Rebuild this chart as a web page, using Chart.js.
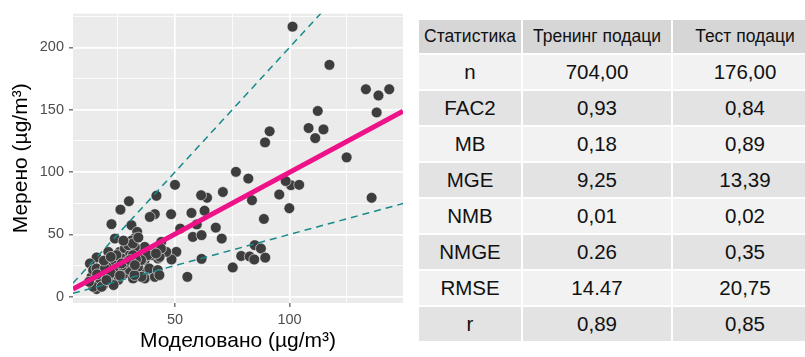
<!DOCTYPE html>
<html>
<head>
<meta charset="utf-8">
<script src="https://cdn.jsdelivr.net/npm/chart.js@4/dist/chart.umd.min.js"></script>
<style>
  html, body { margin: 0; padding: 0; background: #ffffff; width: 805px; height: 357px; overflow: hidden; position: relative; }
  #plotWrap { position: absolute; left: 0; top: 0; width: 410px; height: 357px; }
  #tableWrap { position: absolute; left: 417px; top: 18px; width: 430px; }
  #stats {
    border-collapse: separate; border-spacing: 2px;
    table-layout: fixed; width: 430px;
    font-family: 'Liberation Sans', Arial, sans-serif; color: #111;
  }
  #stats th {
    height: 33px; padding: 0; background: #d6d6d6;
    font-weight: normal; font-size: 17.5px; text-align: center; white-space: nowrap;
  }
  #stats td {
    height: 34px; padding: 0; font-size: 20.5px; text-align: center; white-space: nowrap;
  }
  #stats tbody tr:nth-child(odd) td { background: #f2f2f2; }
  #stats tbody tr:nth-child(even) td { background: #e3e3e3; }
</style>
</head>
<body>
<div id="plotWrap"><canvas id="scatter" width="410" height="357"></canvas></div>
<div id="tableWrap">
<table id="stats">
  <colgroup><col style="width:102px"><col style="width:148px"><col style="width:172px"></colgroup>
  <thead><tr id="statsHead"></tr></thead>
  <tbody id="statsBody"></tbody>
</table>
</div>
<script>
// Modelled vs. measured concentrations (µg/m³), test set
const modelled = [
  101.3, 117.4, 133.3, 138.8, 143.5, 138.0, 112.3, 108.3, 114.8, 111.2,
  124.9, 91.3, 89.3, 76.6, 82.0, 135.8, 99.9, 100.6, 104.2, 98.3,
  95.5, 88.8, 83.6, 70.9, 67.8, 70.4, 64.0, 61.4, 62.9, 57.2,
  59.5, 57.8, 61.6, 61.6, 75.2, 78.9, 82.6, 84.6, 84.8, 87.5,
  89.4, 55.4, 50.0, 48.3, 52.3, 50.6, 48.5, 41.9, 41.2, 39.0,
  44.0, 43.3, 46.2, 39.7, 36.8, 42.6, 36.1, 39.7, 42.6, 36.8,
  41.2, 43.3, 39.7, 29.9, 26.2, 22.3, 31.0, 33.5, 32.2, 23.8,
  15.8, 15.8, 20.9, 25.9, 28.1, 31.0, 30.3, 26.7, 23.2, 24.5,
  20.1, 17.3, 12.9, 13.6, 17.3, 20.1, 23.2, 18.7, 25.2, 28.1,
  30.3, 31.7, 33.9, 36.1, 34.7, 36.8, 35.4, 14.3, 17.3, 14.3,
  24.5, 32.5, 29.6, 31.0, 15.8, 19.4, 20.9, 18.0, 31.6, 31.6,
  38.1, 35.2, 38.8, 42.5, 43.2, 32.3, 43.9, 41.7, 27.0, 22.0,
  26.0, 29.0, 33.0, 19.0, 22.0, 12.5, 16.0, 27.5, 34.0, 26.7,
  30.3, 32.5, 23.2, 20.1
];
const measured = [
  216.6, 186.0, 166.4, 161.4, 166.4, 147.8, 149.0, 135.3, 134.2, 127.2,
  111.8, 132.7, 123.8, 100.2, 94.8, 79.4, 71.0, 89.5, 89.8, 92.8,
  82.0, 62.4, 77.4, 84.0, 55.5, 46.7, 79.4, 81.4, 69.0, 67.2,
  58.0, 48.0, 49.4, 30.4, 23.5, 32.7, 32.3, 29.9, 41.4, 38.7,
  31.4, 16.0, 89.8, 66.2, 54.7, 36.0, 29.9, 81.0, 66.3, 64.0,
  44.0, 37.4, 36.0, 36.0, 29.4, 30.7, 20.0, 21.4, 17.4, 14.7,
  16.0, 32.0, 33.4, 76.6, 69.9, 58.2, 57.4, 52.0, 46.7, 46.7,
  31.5, 6.2, 36.0, 36.0, 38.7, 41.4, 33.4, 30.7, 28.0, 22.7,
  24.0, 21.4, 26.7, 16.0, 13.4, 14.7, 10.7, 9.4, 13.4, 18.7,
  21.4, 14.7, 24.0, 30.7, 36.0, 40.0, 16.0, 21.4, 10.7, 8.0,
  33.4, 40.0, 41.4, 45.0, 22.7, 22.7, 13.4, 8.0, 42.7, 33.4,
  33.4, 29.4, 22.7, 21.4, 17.4, 17.4, 38.7, 34.7, 25.0, 19.0,
  17.0, 28.0, 30.0, 29.0, 32.0, 12.0, 18.0, 45.0, 47.5, 26.7,
  29.4, 25.4, 9.4, 13.4
];

// Fitted regression line: [intercept, slope]
const fitCoef = [0.8, 0.99];
// Factor-of-two envelope slopes (1:2 and 2:1)
const envelopeSlopes = [2, 0.5];

// Axis extents and ticks
const xLimits = [5.5, 149.5];
const yLimits = [-5, 227];
const xGridValues = [25, 50, 75, 100, 125];
const yGridValues = [0, 25, 50, 75, 100, 125, 150, 175, 200, 225];
const xTickLabels = [50, 100];
const yTickLabels = [0, 50, 100, 150, 200];

// Statistics table
const statHeaders = ['Статистика', 'Тренинг подаци', 'Тест подаци'];
const statNames = ['n', 'FAC2', 'MB', 'MGE', 'NMB', 'NMGE', 'RMSE', 'r'];
const trainValues = ['704,00', '0,93', '0,18', '9,25', '0,01', '0.26', '14.47', '0,89'];
const testValues = ['176,00', '0,84', '0,89', '13,39', '0,02', '0,35', '20,75', '0,85'];

// Build the table
const head = document.getElementById('statsHead');
statHeaders.forEach(h => { const th = document.createElement('th'); th.textContent = h; head.appendChild(th); });
const body = document.getElementById('statsBody');
statNames.forEach((name, i) => {
  const tr = document.createElement('tr');
  [name, trainValues[i], testValues[i]].forEach((v, j) => {
    const td = document.createElement('td'); td.textContent = v;
    // third column is wider than the visible area; keep its text centred at the visible column centre
    if (j === 2) td.style.paddingRight = '28px';
    tr.appendChild(td);
  });
  body.appendChild(tr);
});
document.querySelectorAll('#statsHead th')[2].style.paddingRight = '28px';

// Chart
const FONT = "'Liberation Sans', Arial, sans-serif";
Chart.defaults.font.family = FONT;

const panelBackground = {
  id: 'panelBackground',
  beforeDraw(chart) {
    const { ctx, chartArea: a } = chart;
    ctx.save();
    ctx.fillStyle = '#ebebeb';
    ctx.fillRect(a.left, a.top, a.right - a.left, a.bottom - a.top);
    ctx.restore();
  }
};

const linePoints = (intercept, slope) =>
  xLimits.map(x => ({ x, y: intercept + slope * x }));

const isMajor = (list, v) => list.includes(v);

new Chart(document.getElementById('scatter'), {
  type: 'scatter',
  data: {
    datasets: [
      {
        type: 'line', data: linePoints(fitCoef[0], fitCoef[1]),
        borderColor: '#ee1289', borderWidth: 5, pointRadius: 0, order: 0
      },
      {
        type: 'line', data: linePoints(0, envelopeSlopes[0]),
        borderColor: '#17898b', borderWidth: 1.5, borderDash: [7, 5], pointRadius: 0, order: 1
      },
      {
        type: 'line', data: linePoints(0, envelopeSlopes[1]),
        borderColor: '#17898b', borderWidth: 1.5, borderDash: [7, 5], pointRadius: 0, order: 1
      },
      {
        data: modelled.map((x, i) => ({ x, y: measured[i] })),
        backgroundColor: '#3d3d3d',
        borderColor: 'rgba(255,255,255,0.7)',
        borderWidth: 0.8,
        pointRadius: 5.4,
        order: 2
      }
    ]
  },
  options: {
    responsive: false,
    animation: false,
    events: [],
    layout: { padding: { left: 0, right: 7, top: 13, bottom: 0 } },
    plugins: { legend: { display: false }, tooltip: { enabled: false } },
    scales: {
      x: {
        type: 'linear', min: xLimits[0], max: xLimits[1],
        afterBuildTicks: s => { s.ticks = xGridValues.map(v => ({ value: v })); },
        afterFit: s => { s.height = 54; },
        border: { display: false },
        grid: {
          color: '#ffffff',
          lineWidth: c => isMajor(xTickLabels, c.tick && c.tick.value) ? 1.7 : 0.8,
          tickColor: c => isMajor(xTickLabels, c.tick && c.tick.value) ? '#333333' : 'rgba(0,0,0,0)',
          tickWidth: 1,
          tickLength: 4,
          drawTicks: true
        },
        ticks: {
          color: '#4d4d4d', font: { size: 14.5 }, padding: 4, maxRotation: 0,
          callback: v => isMajor(xTickLabels, v) ? String(v) : ''
        },
        title: {
          display: true, text: 'Моделовано (µg/m³)', color: '#000000',
          font: { size: 21 }, padding: { top: 0, bottom: 3 }
        }
      },
      y: {
        type: 'linear', min: yLimits[0], max: yLimits[1],
        afterBuildTicks: s => { s.ticks = yGridValues.map(v => ({ value: v })); },
        afterFit: s => { s.width = 73; },
        border: { display: false },
        grid: {
          color: '#ffffff',
          lineWidth: c => isMajor(yTickLabels, c.tick && c.tick.value) ? 1.7 : 0.8,
          tickColor: c => isMajor(yTickLabels, c.tick && c.tick.value) ? '#333333' : 'rgba(0,0,0,0)',
          tickWidth: 1,
          tickLength: 4,
          drawTicks: true
        },
        ticks: {
          color: '#4d4d4d', font: { size: 14.5 }, padding: 5,
          callback: v => isMajor(yTickLabels, v) ? String(v) : ''
        },
        title: {
          display: true, text: 'Мерено (µg/m³)', color: '#000000',
          font: { size: 21 }, padding: { top: 9, bottom: 0 }
        }
      }
    }
  },
  plugins: [panelBackground]
});
</script>
</body>
</html>
